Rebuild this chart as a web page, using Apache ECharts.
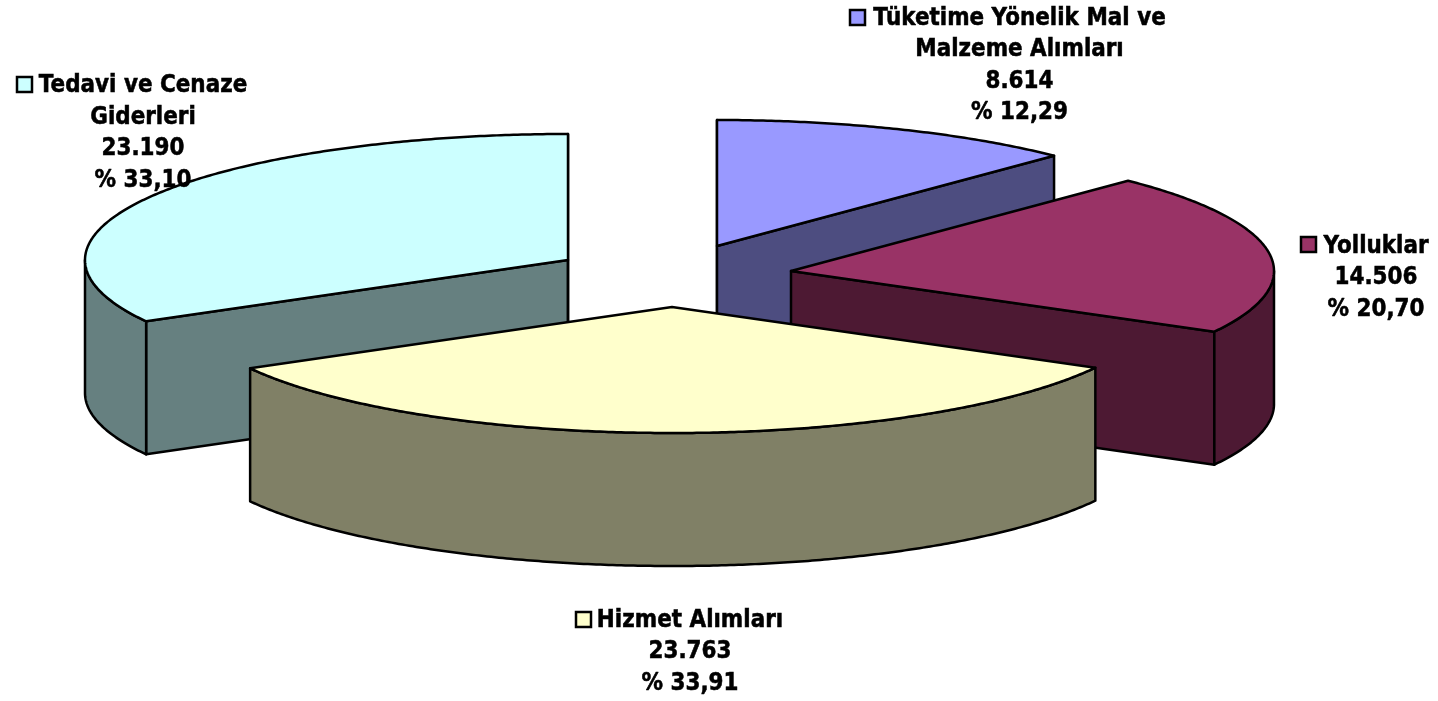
<!DOCTYPE html>
<html>
<head>
<meta charset="utf-8">
<style>
  html, body { margin: 0; padding: 0; background: #fff; }
  #main { width: 1438px; height: 701px; }
</style>
<script src="https://cdn.jsdelivr.net/npm/echarts@6/dist/echarts.min.js"></script>
</head>
<body>
<div id="main"></div>
<script>
// pie order, clockwise from twelve o'clock
const categories = ['Tüketime Yönelik Mal ve\nMalzeme Alımları', 'Yolluklar', 'Hizmet Alımları', 'Tedavi ve Cenaze\nGiderleri']
const values = [8614, 14506, 23763, 23190]
const valueLabels = ['8.614', '14.506', '23.763', '23.190']
const percentLabels = ['% 12,29', '% 20,70', '% 33,91', '% 33,10']

const topColors = ['#9999ff', '#993366', '#ffffcc', '#ccffff']
const sideColors = ['#4d4d80', '#4d1933', '#808066', '#668080']

// layout of the exploded slices and their labels
const radiusX = 483
const radiusY = 126
const depth = 133
const sliceCenters = [[717, 246], [791, 271], [672, 307], [568, 260]]
const labelCenters = [[1019.5, 65], [1376, 277], [690, 651], [143, 132.5]]
const keyBoxes = [[850, 10], [1301, 237], [576, 612], [17, 77]]
const keySize = 15
const fontFamily = '"DejaVu Sans", sans-serif'
const fontSize = 21.5
const lineHeight = 31.5
// DejaVu has the width of the original face but not its height
const textStretch = 1.12

const total = values.reduce((a, b) => a + b, 0)
const data = []
let sum = 0
for (let i = 0; i < values.length; i++) {
  data.push([i, sum / total * 360, (sum + values[i]) / total * 360])
  sum += values[i]
}
// Tedavi has to sit under Hizmet
const drawOrder = [0, 1, 3, 2]

function rimPoint(center, angle, drop) {
  const rad = angle * Math.PI / 180
  return [center[0] + radiusX * Math.sin(rad), center[1] - radiusY * Math.cos(rad) + drop]
}

function arcPoints(center, from, to, drop) {
  const pts = []
  const steps = Math.max(2, Math.ceil(Math.abs(to - from) * 2))
  for (let s = 0; s <= steps; s++) {
    pts.push(rimPoint(center, from + (to - from) * s / steps, drop))
  }
  return pts
}

function face(points, fill) {
  return {
    type: 'polygon',
    shape: { points: points },
    style: { fill: fill, stroke: '#000', lineWidth: 2.5, lineJoin: 'round' }
  }
}

function renderSlice(params, api) {
  const i = api.value(0)
  const start = api.value(1)
  const end = api.value(2)
  const c = sliceCenters[i]
  const below = [c[0], c[1] + depth]
  const children = []
  const eps = 1e-6

  // cut faces, only those turned towards the viewer
  if (Math.sin(start * Math.PI / 180) <= eps) {
    children.push(face([c, rimPoint(c, start, 0), rimPoint(c, start, depth), below], sideColors[i]))
  }
  if (Math.sin(end * Math.PI / 180) >= -eps) {
    children.push(face([c, rimPoint(c, end, 0), rimPoint(c, end, depth), below], sideColors[i]))
  }
  // outer wall, front half of the ellipse
  const wallFrom = Math.max(start, 90)
  const wallTo = Math.min(end, 270)
  if (wallTo > wallFrom) {
    const top = arcPoints(c, wallFrom, wallTo, 0)
    const bottom = arcPoints(c, wallFrom, wallTo, depth).reverse()
    children.push(face(top.concat(bottom), sideColors[i]))
  }
  children.push(face([c].concat(arcPoints(c, start, end, 0)), topColors[i]))

  return { type: 'group', children: children }
}

function renderLabel(params, api) {
  const i = api.value(0)
  const box = keyBoxes[i]
  return {
    type: 'group',
    children: [
      {
        type: 'rect',
        z2: 100,
        shape: { x: box[0], y: box[1], width: keySize, height: keySize },
        style: { fill: topColors[i], stroke: '#000', lineWidth: 2.5 }
      },
      {
        type: 'text',
        z2: 100,
        x: labelCenters[i][0],
        y: labelCenters[i][1] + 1,
        scaleY: textStretch,
        style: {
          x: 0,
          y: 0,
          text: categories[i] + '\n' + valueLabels[i] + '\n' + percentLabels[i],
          fill: '#000',
          stroke: '#000',
          lineWidth: 0.5,
          font: 'bold ' + fontSize + 'px ' + fontFamily,
          lineHeight: lineHeight / textStretch,
          align: 'center',
          verticalAlign: 'middle'
        }
      }
    ]
  }
}

const chart = echarts.init(document.getElementById('main'), null, { renderer: 'canvas' })
chart.setOption({
  backgroundColor: '#fff',
  animation: false,
  series: [
    {
      type: 'custom',
      coordinateSystem: 'none',
      silent: true,
      renderItem: renderSlice,
      data: drawOrder.map(i => data[i])
    },
    {
      type: 'custom',
      coordinateSystem: 'none',
      silent: true,
      z: 5,
      renderItem: renderLabel,
      data: data
    }
  ]
})
</script>
</body>
</html>
